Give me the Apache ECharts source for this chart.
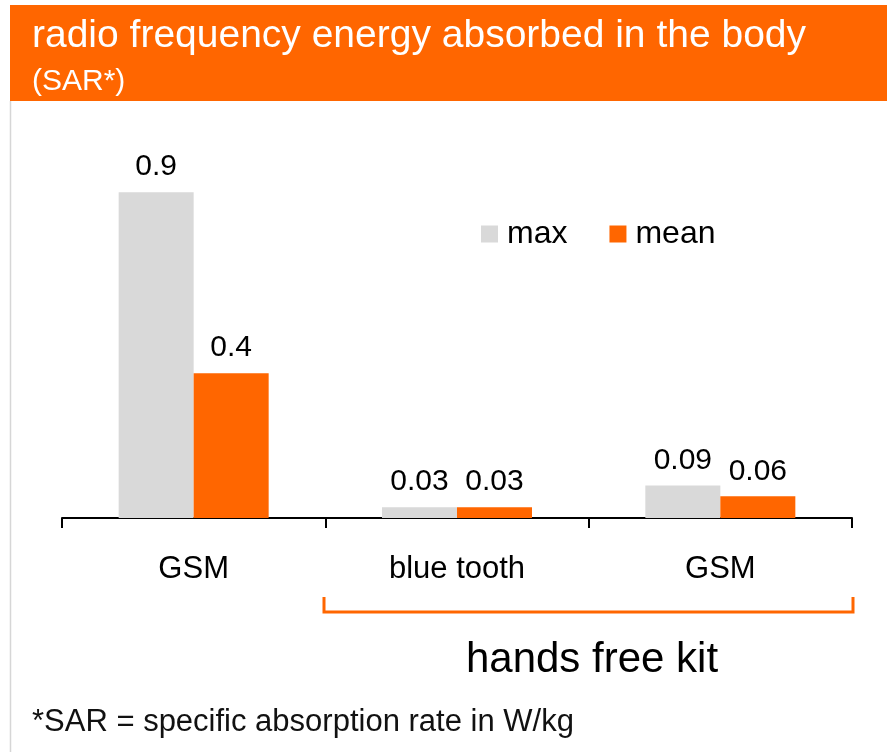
<!DOCTYPE html>
<html>
<head>
<meta charset="utf-8">
<script src="https://cdn.jsdelivr.net/npm/echarts@6/dist/echarts.min.js"></script>
<style>
    html, body { margin: 0; padding: 0; background: #ffffff; }
    #sarChart { width: 887px; height: 752px; }
</style>
</head>
<body>
<div id="sarChart"></div>
<script>
    // data
    var categories = ['GSM', 'blue tooth', 'GSM'];
    var maxValues = [0.9, 0.03, 0.09];
    var meanValues = [0.4, 0.03, 0.06];
    var seriesNames = ['max', 'mean'];

    var ORANGE = '#ff6600';
    var GREY = '#d9d9d9';
    var FONT = '"Liberation Sans", Arial, Helvetica, sans-serif';

    var myChart = echarts.init(document.getElementById('sarChart'));
    myChart.setOption({
        animation: false,
        textStyle: { fontFamily: FONT },
        title: {
            text: 'radio frequency energy absorbed in the body',
            subtext: '(SAR*)',
            left: 32,
            top: 17,
            padding: 0,
            itemGap: 11,
            textStyle: { color: '#ffffff', fontSize: 39, fontWeight: 'normal', fontFamily: FONT },
            subtextStyle: { color: '#ffffff', fontSize: 30, fontFamily: FONT }
        },
        legend: {
            data: seriesNames,
            left: 481,
            top: 218,
            padding: 0,
            icon: 'rect',
            itemWidth: 17,
            itemHeight: 17,
            itemGap: 42,
            textStyle: { color: '#000', fontSize: 32, fontFamily: FONT, padding: [0, 0, 0, 4] }
        },
        grid: {
            left: 62,
            right: 35,
            top: 156,
            bottom: 234
        },
        xAxis: [{
            type: 'category',
            data: categories,
            axisLine: { lineStyle: { color: '#000', width: 2 } },
            axisTick: { show: true, alignWithLabel: false, length: 10, lineStyle: { color: '#000', width: 2 } },
            axisLabel: { color: '#000', fontSize: 31, margin: 36, fontFamily: FONT }
        }],
        yAxis: [{
            type: 'value',
            min: 0,
            max: 1,
            show: false,
            splitLine: { show: false }
        }],
        series: [{
            name: seriesNames[0],
            type: 'bar',
            data: maxValues,
            barWidth: 75,
            barGap: '0%',
            itemStyle: { color: GREY },
            label: { show: true, position: 'top', distance: 10, color: '#000', fontSize: 30, fontFamily: FONT }
        }, {
            name: seriesNames[1],
            type: 'bar',
            data: meanValues,
            barWidth: 75,
            itemStyle: { color: ORANGE },
            label: { show: true, position: 'top', distance: 10, color: '#000', fontSize: 30, fontFamily: FONT }
        }],
        graphic: [
            { type: 'rect', z: -1, shape: { x: 10, y: 5, width: 877, height: 96 }, style: { fill: ORANGE } },
            { type: 'line', shape: { x1: 10.5, y1: 101, x2: 10.5, y2: 752 }, style: { stroke: '#d6d6d6', lineWidth: 1.5 } },
            { type: 'polyline', shape: { points: [[324, 597], [324, 612], [853, 612], [853, 597]] },
              style: { stroke: ORANGE, lineWidth: 3, fill: null } },
            { type: 'text', x: 592, y: 660,
              style: { text: 'hands free kit', font: '42px ' + FONT, fill: '#000', align: 'center', verticalAlign: 'middle' } },
            { type: 'text', x: 32, y: 722,
              style: { text: '*SAR = specific absorption rate in W/kg', font: '31px ' + FONT, fill: '#111', align: 'left', verticalAlign: 'middle' } }
        ]
    });
</script>
</body>
</html>
